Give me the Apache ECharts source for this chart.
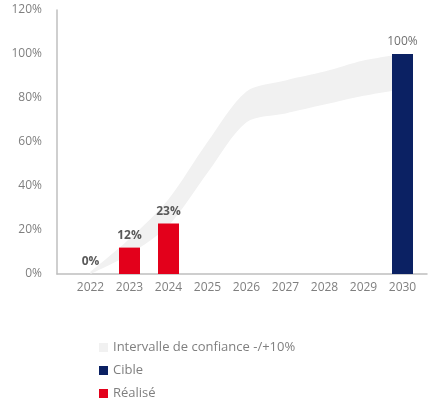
<!DOCTYPE html>
<html>
<head>
<meta charset="utf-8">
<script src="https://cdn.jsdelivr.net/npm/echarts@6/dist/echarts.min.js"></script>
<style>
  html, body { margin: 0; padding: 0; background: #fff; }
  #chart { width: 430px; height: 408px; }
</style>
</head>
<body>
<div id="chart"></div>
<script>
// Years on the horizontal axis
const years = ['2022', '2023', '2024', '2025', '2026', '2027', '2028', '2029', '2030'];
// Achieved share (%) per year
const realise = [0, 12, 23, null, null, null, null, null, null];
// Target share (%) per year
const cible = [null, null, null, null, null, null, null, null, 100];
// Confidence interval bounds (%)
const ciLower = [0, 9, 22, 46, 69, 73, 77, 81, 84];
const ciUpper = [1, 16, 34, 60, 83, 88, 92, 97, 100];
// Vertical axis ticks (%)
const yTicks = [0, 20, 40, 60, 80, 100, 120];

const ciWidth = ciUpper.map((u, i) => u - ciLower[i]);

const gray = '#7f7f7f';
const font = 'Open Sans';
const bandColor = '#f1f1f1';

const chart = echarts.init(document.getElementById('chart'), null, { renderer: 'canvas' });
chart.setOption({
  animation: false,
  textStyle: { fontFamily: font },
  grid: [
    { left: 57, right: 3, top: 10, bottom: 134 },
    { left: 71, right: 8, top: 10, bottom: 134 }
  ],
  xAxis: [
    {
      gridIndex: 0, type: 'value', min: 0, max: 1,
      axisLine: { show: true, lineStyle: { color: '#bfbfbf', width: 1.5 } },
      axisTick: { show: false }, axisLabel: { show: false }, splitLine: { show: false }
    },
    {
      gridIndex: 1, type: 'category', data: years, boundaryGap: true,
      axisLine: { show: false }, axisTick: { show: false },
      axisLabel: { color: gray, fontSize: 12, margin: 8, fontFamily: font }
    }
  ],
  yAxis: [
    {
      gridIndex: 0, type: 'value',
      min: yTicks[0], max: yTicks[yTicks.length - 1], interval: yTicks[1] - yTicks[0],
      axisLine: { show: true, lineStyle: { color: '#bfbfbf', width: 1.5 } },
      axisTick: { show: false }, splitLine: { show: false },
      axisLabel: { color: gray, fontSize: 12, margin: 15, formatter: '{value}%', fontFamily: font }
    },
    {
      gridIndex: 1, type: 'value',
      min: yTicks[0], max: yTicks[yTicks.length - 1], show: false
    }
  ],
  legend: {
    orient: 'vertical', left: 94, top: 336,
    itemWidth: 9, itemHeight: 9, itemGap: 10,
    icon: 'rect',
    textStyle: { color: gray, fontSize: 13, fontFamily: font },
    data: ['Intervalle de confiance -/+10%', 'Cible', 'Réalisé']
  },
  series: [
    {
      name: 'ciLower', type: 'line', xAxisIndex: 1, yAxisIndex: 1, z: 1,
      stack: 'ci', data: ciLower, smooth: 0.3, symbol: 'none',
      lineStyle: { opacity: 0 }, silent: true
    },
    {
      name: 'Intervalle de confiance -/+10%', type: 'line', xAxisIndex: 1, yAxisIndex: 1, z: 1,
      stack: 'ci', data: ciWidth, smooth: 0.3, symbol: 'none',
      itemStyle: { color: bandColor },
      lineStyle: { opacity: 0 },
      areaStyle: { color: bandColor, opacity: 1 }
    },
    {
      name: 'Réalisé', type: 'bar', xAxisIndex: 1, yAxisIndex: 1, z: 3,
      stack: 'bars', barWidth: 21, data: realise,
      itemStyle: { color: '#e3001b' },
      label: {
        show: true, position: 'top', formatter: '{c}%', distance: 6,
        color: '#595959', fontWeight: 'bold', fontSize: 12, fontFamily: font
      }
    },
    {
      name: 'Cible', type: 'bar', xAxisIndex: 1, yAxisIndex: 1, z: 3,
      stack: 'bars', barWidth: 21, data: cible,
      itemStyle: { color: '#0b2163' },
      label: {
        show: true, position: 'top', formatter: '{c}%', distance: 6,
        color: '#707070', fontSize: 12, fontFamily: font
      }
    }
  ]
});
</script>
</body>
</html>
